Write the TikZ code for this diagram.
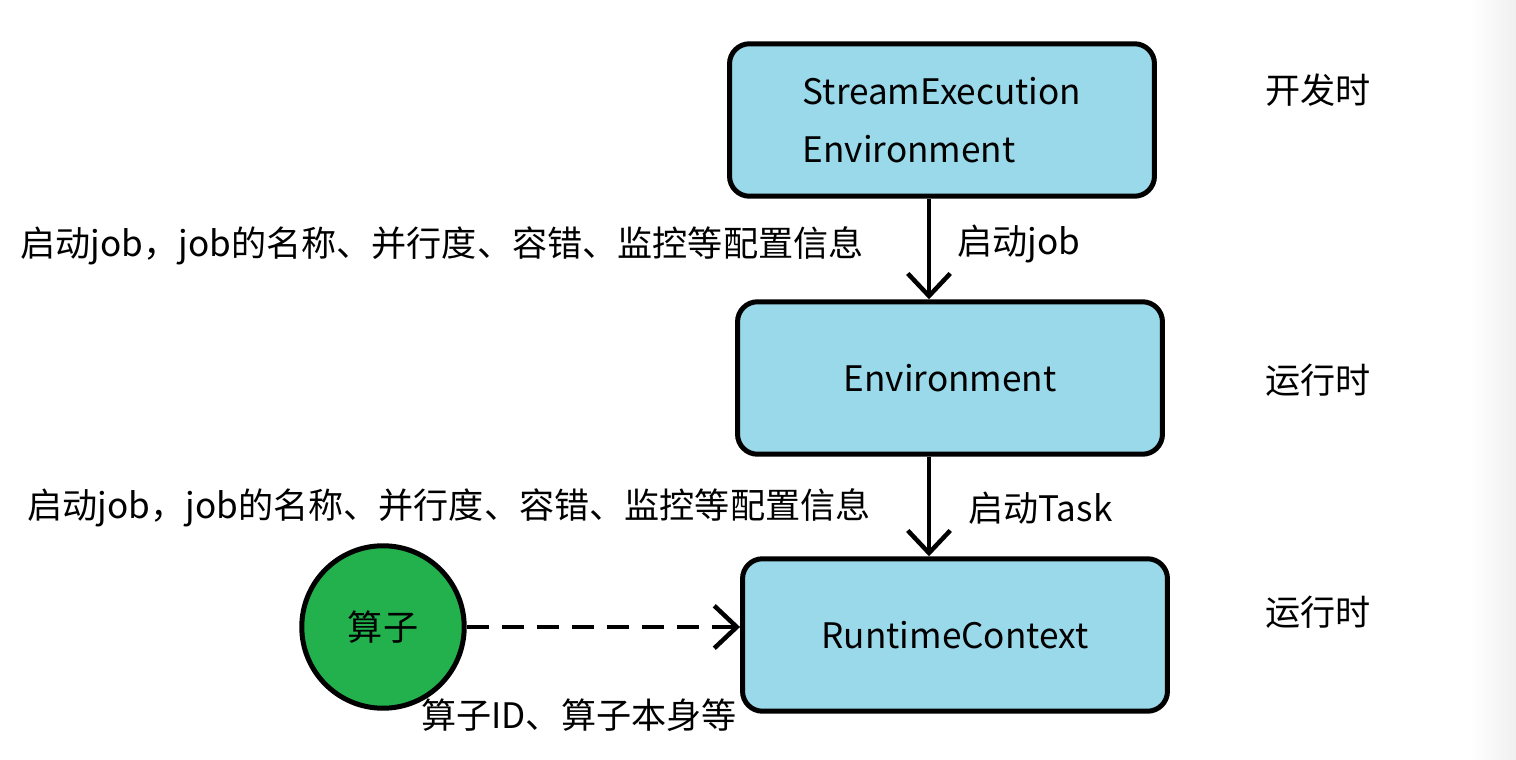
\documentclass[tikz,border=0pt]{standalone}
\usepackage{fontspec}
\setmainfont{Noto Sans CJK SC}
\usetikzlibrary{arrows.meta}
\usetikzlibrary{calc}
\definecolor{boxblue}{HTML}{99D9EA}
\definecolor{opgreen}{HTML}{22B14C}
\tikzstyle{envbox}=[draw=black,line width=0.1cm,rounded corners=0.4cm,fill=boxblue,minimum width=8.5cm,minimum height=3.05cm,align=left,font=\fontsize{20}{25}\selectfont]
\tikzstyle{opnode}=[draw=black,circle,fill=opgreen,line width=0.1cm,minimum size=3.25cm,inner sep=0,font=\fontsize{20}{25}\selectfont]
\tikzstyle{lbl}=[inner sep=0,font=\fontsize{20}{25}\selectfont]
\tikzset{>={Straight Barb[length=0.45cm,width=0.85cm]}}

\begin{document}
\begin{tikzpicture}[x=0.02cm,y=-0.02cm]
    \useasboundingbox (0,0) rectangle (1516,760);
    \shade[left color=white,right color=black!6] (1470,0) rectangle (1516,760);

    \node[envbox] (sEnv) at (942,120) {StreamExecution\\[8pt]Environment};
    \node[envbox] (env) at (950,378) {Environment};
    \node[envbox] (rtCtx) at (955,635) {RuntimeContext};
    \node[opnode] (op) at (383,627) {算子};

    \coordinate (colx) at (929,0);
    \draw[->,line width=0.09cm] (sEnv.south -| colx) -- (env.north -| colx);
    \draw[->,line width=0.09cm] (env.south -| colx) -- (rtCtx.north -| colx);
    \draw[->,line width=0.09cm,dash pattern=on 0.44cm off 0.26cm] (op.east) -- (rtCtx.west |- op.east);

    \node[lbl,anchor=west] (cfg1) at (20,246) {启动job，job的名称、并行度、容错、监控等配置信息};
    \node[lbl,anchor=west] (start1) at (957,244) {启动job};
    \node[lbl,anchor=west] (cfg2) at (27,508) {启动job，job的名称、并行度、容错、监控等配置信息};
    \node[lbl,anchor=west] (start2) at (968,508) {启动Task};
    \node[lbl] (opInfo) at (579,715) {算子ID、算子本身等};

    \node[lbl] (devT) at (1318,90) {开发时};
    \node[lbl] (runT1) at (1318,380) {运行时};
    \node[lbl] (runT2) at (1318,612) {运行时};
\end{tikzpicture}
\end{document}
